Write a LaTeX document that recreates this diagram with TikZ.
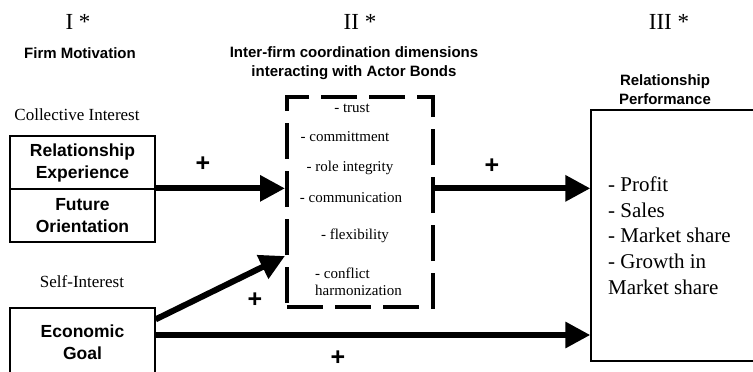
\documentclass[tikz,border=0pt]{standalone}
\usepackage{fontspec}
\setmainfont{Liberation Serif}
\setsansfont{Liberation Sans}
\usetikzlibrary{arrows.meta}
\begin{document}
\begin{tikzpicture}[x=1pt,y=-1pt,
  numt/.style={inner sep=0pt, font=\fontsize{23}{27}\selectfont},
  hdr/.style={inner sep=0pt, align=center, font=\sffamily\bfseries\fontsize{15}{19}\selectfont},
  lbl/.style={inner sep=0pt, font=\fontsize{17}{20}\selectfont},
  sbox/.style={draw, line width=1.3pt, inner sep=0pt, align=center,
    font=\sffamily\bfseries\fontsize{17.5}{22}\selectfont},
  dbox/.style={draw, line width=4pt, dash pattern=on 36pt off 12pt},
  dim/.style={inner sep=0pt, font=\fontsize{15}{17}\selectfont},
  perftxt/.style={inner sep=0pt, align=left, font=\fontsize{21}{25.75}\selectfont},
  plus/.style={inner sep=0pt, font=\sffamily\bfseries\fontsize{25}{28}\selectfont},
  arr/.style={line width=6pt, -{Triangle[length=25pt,width=25pt]}}
]
\useasboundingbox (0,0) rectangle (753,372);
\clip (0,0) rectangle (753,372);
\fill[white] (0,0) rectangle (753,372);

% column headers
\node[numt] (n1) at (78,22) {I *};
\node[numt] (n2) at (360,22) {II *};
\node[numt] (n3) at (669,22) {III *};
\node[hdr] (h1) at (80,53) {Firm Motivation};
\node[hdr] (h2) at (354,63) {Inter-firm coordination dimensions\\interacting with Actor Bonds};
\node[hdr] (h3) at (665,90) {Relationship\\Performance};

% left column
\node[lbl] (ci) at (77,115) {Collective Interest};
\node[lbl] (si) at (82,282) {Self-Interest};
\node[sbox, minimum width=145pt, minimum height=53pt] (relexp) at (82.5,162.5) {Relationship\\Experience};
\node[sbox, minimum width=145pt, minimum height=53pt] (futor) at (82.5,215.5) {Future\\Orientation};
\node[sbox, minimum width=145pt, minimum height=68pt] (econ) at (82.5,342) {Economic\\Goal};

% middle dashed box
\node[dbox, minimum width=146pt, minimum height=210pt] (dims) at (360,202) {};
\node[dim] (t1) at (352,108) {- trust};
\node[dim] (t2) at (345,137) {- committment};
\node[dim] (t3) at (350,168) {- role integrity};
\node[dim] (t4) at (351,198) {- communication};
\node[dim] (t5) at (355,236) {- flexibility};
\node[dim, align=left, anchor=west, font=\fontsize{15}{17}\selectfont] (t6) at (315,281.5) {- conflict\\harmonization};

% right box
\node[draw, line width=1.3pt, minimum width=174pt, minimum height=251pt] (perf) at (678,235.5) {};
\node[perftxt, anchor=west] (ptxt) at (608,235.5) {- Profit\\- Sales\\- Market share\\- Growth in\\Market share};

% connectors
\draw[arr] (futor.north east) -- (futor.north east -| dims.west);
\draw[arr] (futor.north east -| dims.east) -- (futor.north east -| perf.west);
\draw[arr] ([yshift=-12pt]econ.north east) -- ([yshift=-54pt]dims.west);
\coordinate (e2) at ([yshift=7pt]econ.east);
\draw[arr] (e2) -- (e2 -| perf.west);

% signs
\node[plus] (p1) at (203,164) {+};
\node[plus] (p2) at (492,166) {+};
\node[plus] (p3) at (255,300) {+};
\node[plus] (p4) at (338,358) {+};
\end{tikzpicture}
\end{document}
